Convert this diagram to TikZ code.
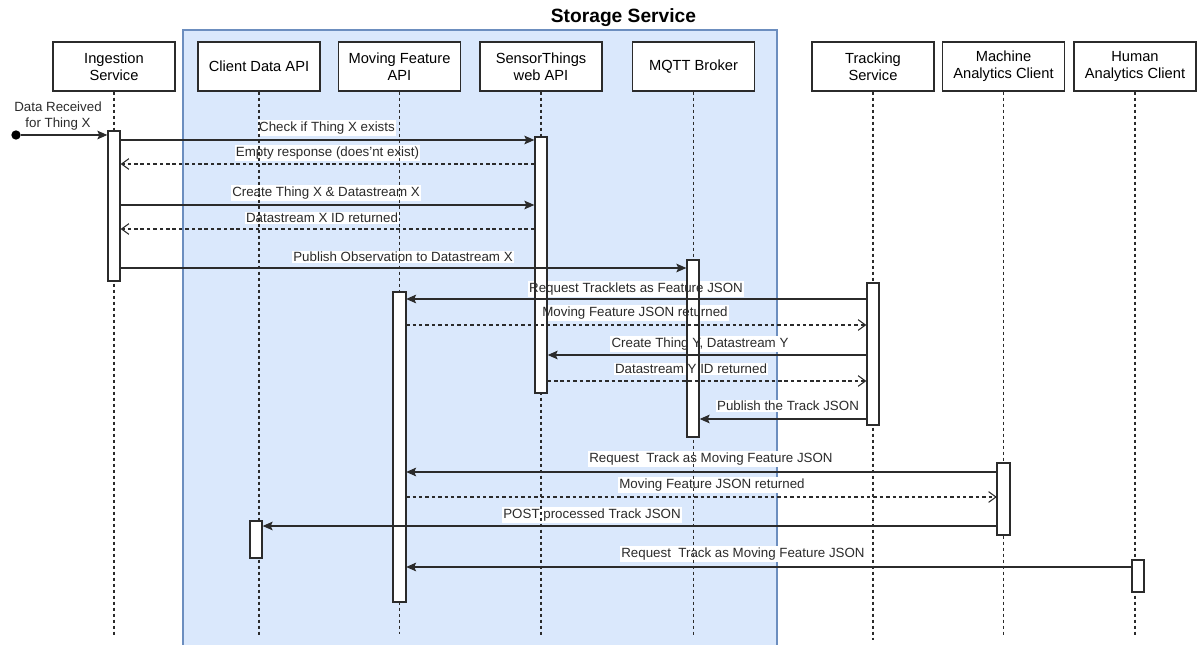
\documentclass[tikz,border=0pt]{standalone}
\usepackage{fontspec}
\setmainfont{Liberation Sans}
\usetikzlibrary{arrows.meta}
\definecolor{storefill}{HTML}{DAE8FC}
\definecolor{storeline}{HTML}{6C8EBF}
\definecolor{ink}{HTML}{2B2B2B}
\tikzset{
  header/.style={draw=ink, line width=1pt, fill=white, minimum width=91.5pt,
    minimum height=36.75pt, align=center, inner sep=1pt,
    font=\fontsize{11}{12.75}\selectfont},
  actbar/.style={draw=ink, line width=1pt, fill=white, minimum width=9pt, inner sep=0pt},
  lifeline/.style={ink, line width=0.9pt, dash pattern=on 2.25pt off 2.25pt},
  msg/.style={ink, line width=0.8pt, -{Stealth[length=7.5pt,width=6.5pt,inset=1.5pt]}},
  reply/.style={ink, line width=0.8pt, dash pattern=on 2.6pt off 2.2pt,
    -{Straight Barb[length=5.5pt,width=8pt,line width=0.8pt]}},
  lbl/.style={inner sep=1pt, text=ink, font=\fontsize{10}{12}\selectfont},
  lblback/.style={lbl, fill=white, text opacity=0},
}
% message labels; #1 = extra style, #2 = name prefix
\newcommand\msglabels[2]{%
  \node[lbl,#1] (#2l2)  at (327,128)   {Check if Thing X exists};
  \node[lbl,#1] (#2l3)  at (327.5,153) {Empty response (does'nt exist)};
  \node[lbl,#1] (#2l4)  at (326,193)   {Create Thing X \& Datastream X};
  \node[lbl,#1] (#2l5)  at (322,218)   {Datastream X ID returned};
  \node[lbl,#1] (#2l6)  at (403,257)   {Publish Observation to Datastream X};
  \node[lbl,#1] (#2l7)  at (636,289)   {Request Tracklets as Feature JSON};
  \node[lbl,#1] (#2l8)  at (635,313)   {Moving Feature JSON returned};
  \node[lbl,#1] (#2l9)  at (700,344)   {Create Thing Y, Datastream Y};
  \node[lbl,#1] (#2l10) at (691,369)   {Datastream Y ID returned};
  \node[lbl,#1] (#2l11) at (788,406)   {Publish the Track JSON};
  \node[lbl,#1] (#2l12) at (711,459)   {Request\ \ Track as Moving Feature JSON};
  \node[lbl,#1] (#2l13) at (712,485)   {Moving Feature JSON returned};
  \node[lbl,#1] (#2l14) at (592,515)   {POST processed Track JSON};
  \node[lbl,#1] (#2l15) at (743,554)   {Request\ \ Track as Moving Feature JSON};
}
\begin{document}
\begin{tikzpicture}[x=0.75pt,y=-0.75pt]
\useasboundingbox (0,0) rectangle (1199,645);

% storage service container
\filldraw[fill=storefill, draw=storeline, line width=0.9pt] (183,30) rectangle (777,648);
\node[font=\bfseries\fontsize{14.4}{16}\selectfont, text=black] (title) at (623.5,18) {Storage Service};

% participants
\node[header] (ing)  at (114,66.5)    {Ingestion\\Service};
\node[header] (cli)  at (259,66.5)    {Client Data API};
\node[header] (mov)  at (399.5,66.5)  {Moving Feature\\API};
\node[header] (sen)  at (541,66.5)    {SensorThings\\web API};
\node[header] (mqtt) at (693.5,66.5)  {MQTT Broker};
\node[header] (trk)  at (873,66.5)    {Tracking\\Service};
\node[header] (mac)  at (1003.5,66.5) {Machine\\Analytics Client};
\node[header] (hum)  at (1135,66.5)   {Human\\Analytics Client};

% white backgrounds of the message labels
\msglabels{lblback}{bg}

% lifelines
\coordinate (ingEnd)  at (114,637);
\coordinate (cliEnd)  at (259,636);
\coordinate (movEnd)  at (399.5,634);
\coordinate (senEnd)  at (541,637);
\coordinate (mqttEnd) at (693.5,637);
\coordinate (trkEnd)  at (873,640);
\coordinate (macEnd)  at (1003.5,635);
\coordinate (humEnd)  at (1135,637);
\foreach \p in {ing,cli,mov,sen,mqtt,trk,mac,hum}
  \draw[lifeline] (\p.south) -- (\p End);

% activation bars
\node[actbar, minimum height=112.5pt]  (bIng)  at (114,206)    {};
\node[actbar, minimum height=192pt]    (bSen)  at (541,265)    {};
\node[actbar, minimum height=132.75pt] (bMqtt) at (693,348.5)  {};
\node[actbar, minimum height=232.5pt]  (bMov)  at (399.5,447)  {};
\node[actbar, minimum height=106.5pt]  (bTrk)  at (873,354)    {};
\node[actbar, minimum height=54pt]     (bMac)  at (1003.5,499) {};
\node[actbar, minimum height=27.75pt]  (bCli)  at (256,539.5)  {};
\node[actbar, minimum height=24pt]     (bHum)  at (1138,576)   {};

% label texts, then bar outlines over them
\msglabels{}{}
\node[text=ink, align=center, font=\fontsize{10}{12}\selectfont] (l1) at (58,116) {Data Received\\for Thing X};
\foreach \b in {bIng,bSen,bMqtt,bMov,bTrk,bMac,bCli,bHum}
  \draw[ink, line width=1pt] (\b.north west) rectangle (\b.south east);

% start point
\node[circle, fill=black, inner sep=0pt, minimum size=7pt] (start) at (16,135) {};

% messages
\draw[msg]   (start) -- (bIng.west |- start);
\draw[msg]   (bIng.east |- 0,140) -- (bSen.west |- 0,140);
\draw[reply] (bSen.west |- 0,164) -- (bIng.east |- 0,164);
\draw[msg]   (bIng.east |- 0,205) -- (bSen.west |- 0,205);
\draw[reply] (bSen.west |- 0,229) -- (bIng.east |- 0,229);
\draw[msg]   (bIng.east |- 0,268) -- (bMqtt.west |- 0,268);
\draw[msg]   (bTrk.west |- 0,299) -- (bMov.east |- 0,299);
\draw[reply] (bMov.east |- 0,325) -- (bTrk.west |- 0,325);
\draw[msg]   (bTrk.west |- 0,355) -- (bSen.east |- 0,355);
\draw[reply] (bSen.east |- 0,381) -- (bTrk.west |- 0,381);
\draw[msg]   (bTrk.west |- 0,419) -- (bMqtt.east |- 0,419);
\draw[msg]   (bMac.west |- 0,472) -- (bMov.east |- 0,472);
\draw[reply] (bMov.east |- 0,497) -- (bMac.west |- 0,497);
\draw[msg]   (bMac.west |- 0,526) -- (bCli.east |- 0,526);
\draw[msg]   (bHum.west |- 0,567) -- (bMov.east |- 0,567);
\end{tikzpicture}
\end{document}
